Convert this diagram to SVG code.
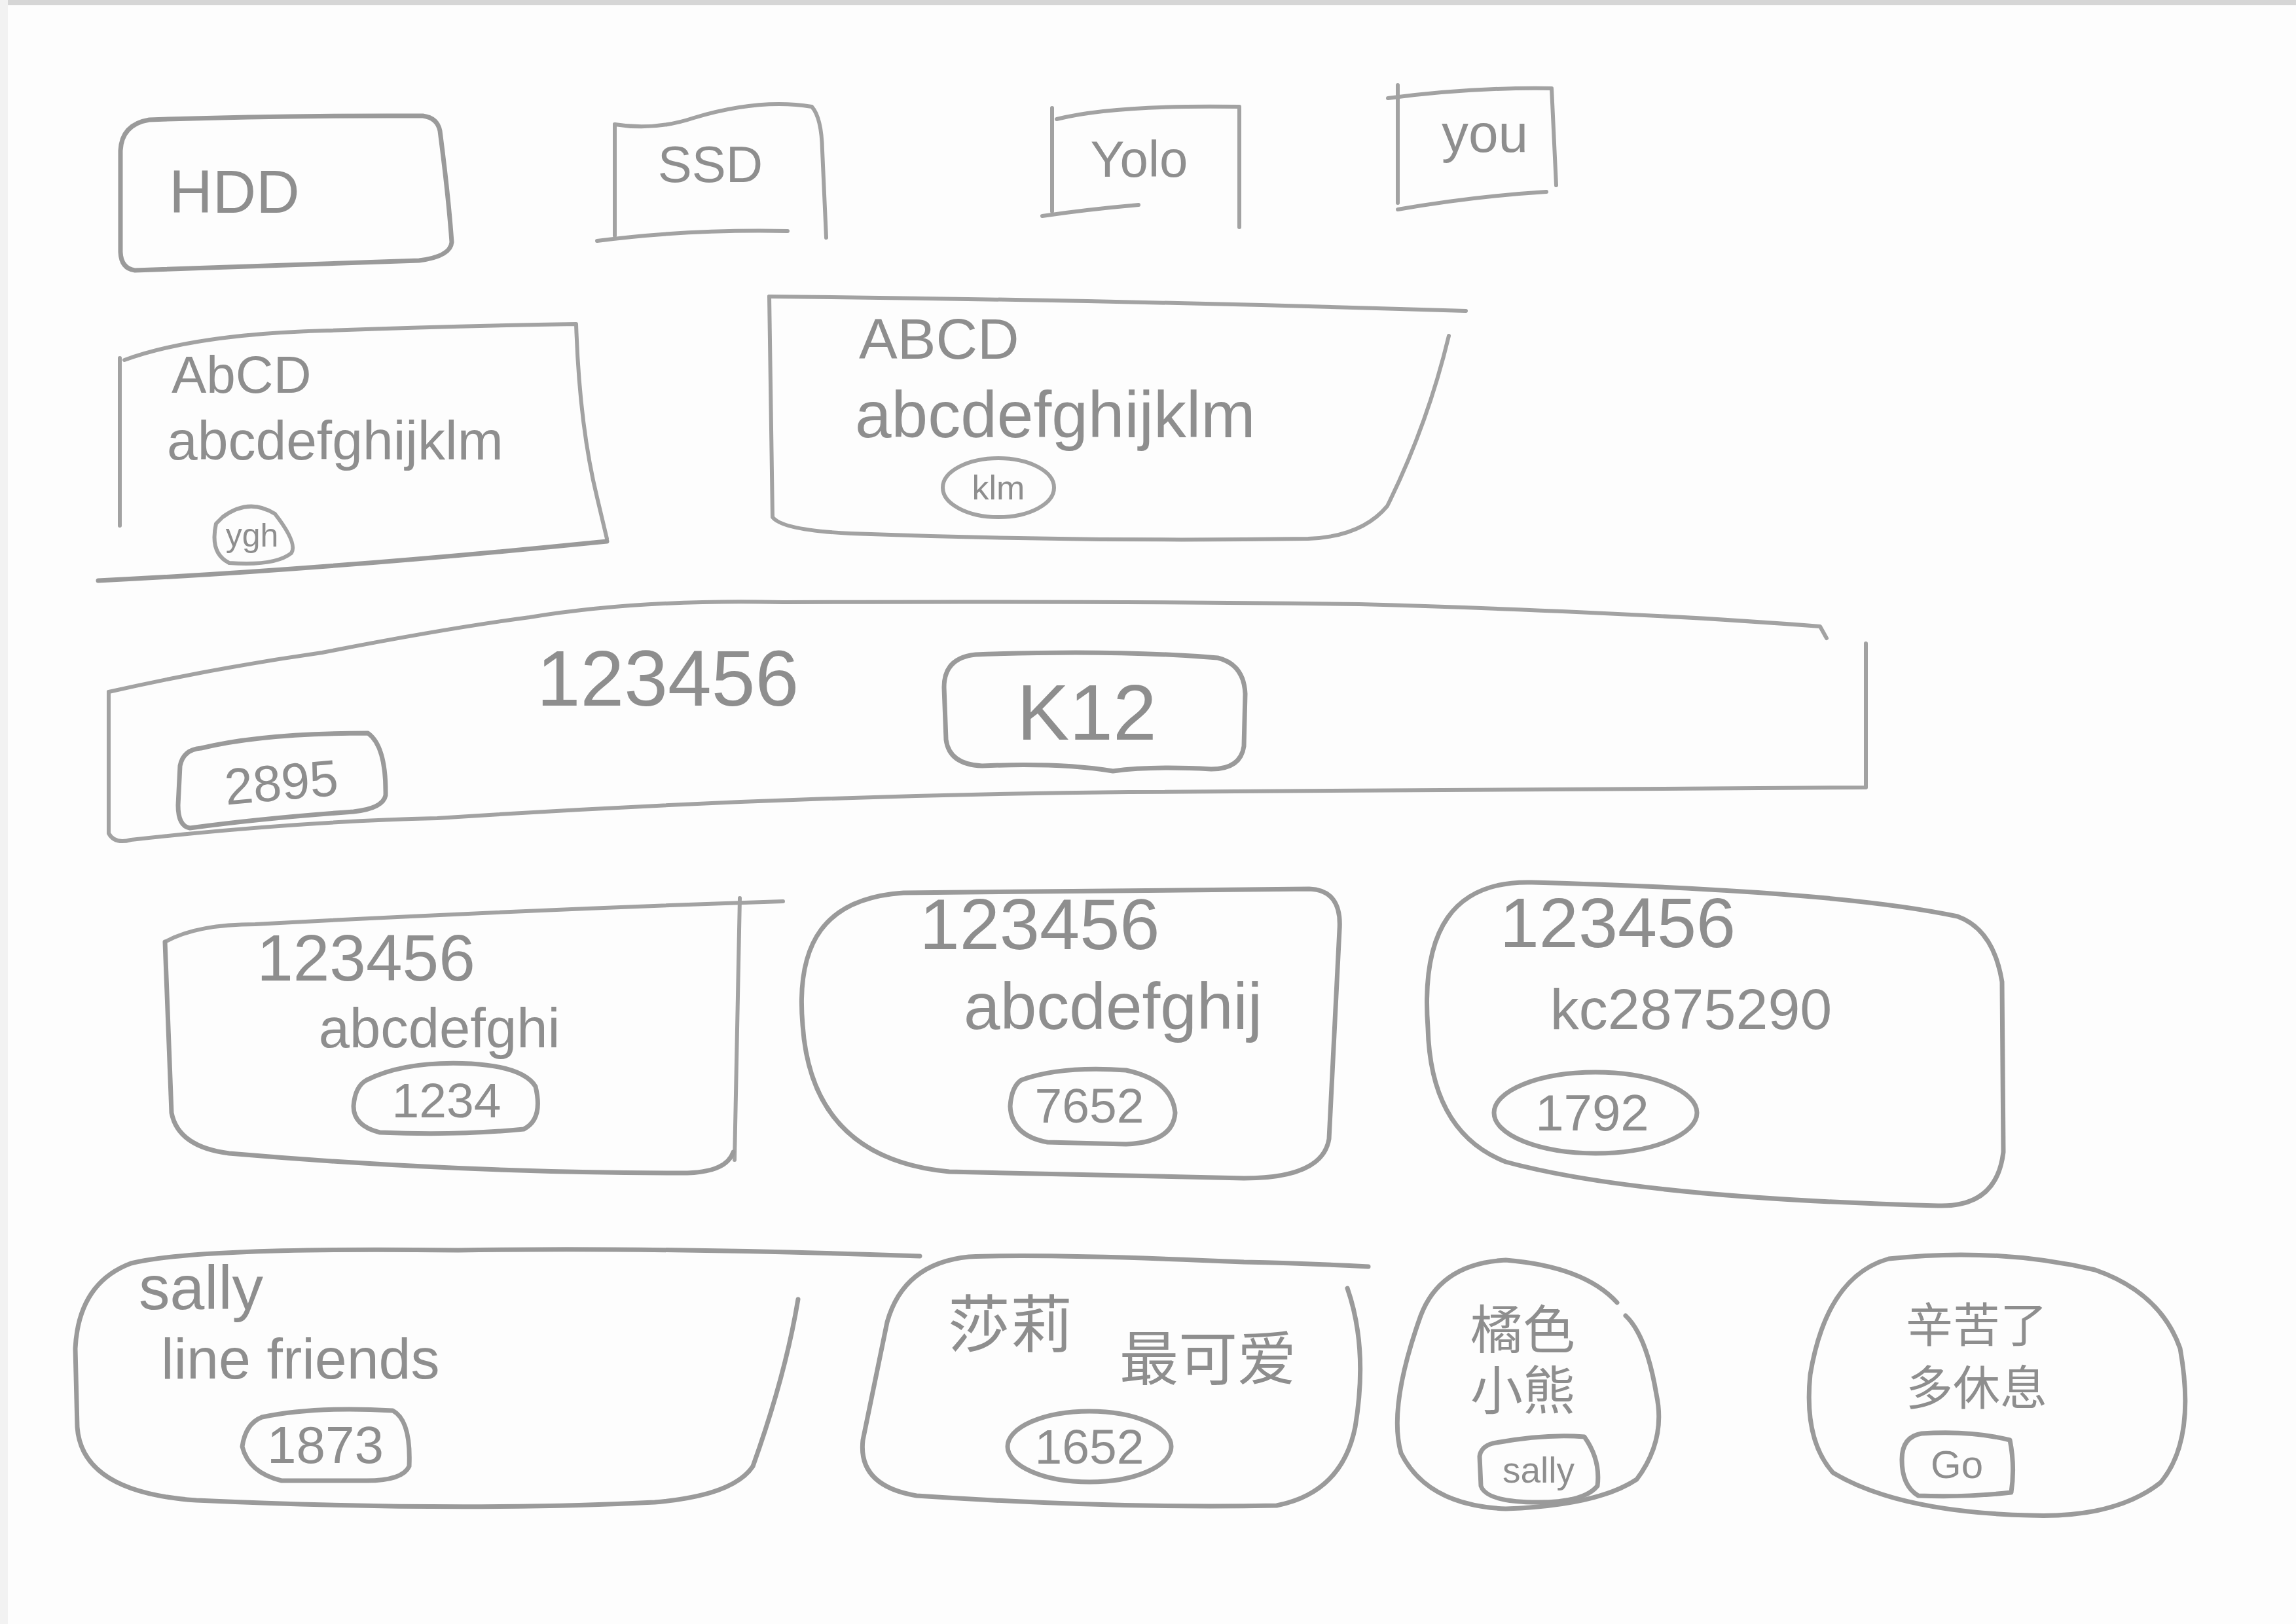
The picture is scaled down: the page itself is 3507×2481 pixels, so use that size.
<svg xmlns="http://www.w3.org/2000/svg" width="3507" height="2481" viewBox="0 0 3507 2481">
<style>
.s{fill:none;stroke:#a2a2a2;stroke-width:6;stroke-linecap:round;stroke-linejoin:round}
.b{stroke-width:7;stroke:#9a9a9a}
.t{fill:#8e8e8e;font-family:"Liberation Sans","Noto Sans CJK SC",sans-serif;text-anchor:middle}
.l{text-anchor:start}
</style>
<rect x="0" y="0" width="3507" height="2481" fill="#fdfdfd"/>
<rect x="0" y="0" width="3507" height="8" fill="#d6d6d6"/>
<rect x="0" y="0" width="12" height="2481" fill="#f2f2f2"/>

<g id="n-hdd">
<path class="s b" d="M228 183 Q420 176 646 177 Q668 180 672 200 Q685 300 690 370 Q688 392 640 398 Q420 405 206 413 Q185 410 184 385 L184 230 Q186 190 228 183 Z"/>
<text class="t" x="358" y="325" font-size="92">HDD</text>
</g>
<g id="n-ssd">
<path class="s" d="M939 190 Q1000 200 1060 180 Q1160 150 1240 163 Q1255 180 1256 230 L1262 363"/>
<path class="s" d="M939 190 L939 360"/>
<path class="s" d="M912 368 Q1050 350 1203 353"/>
<text class="t" x="1085" y="278" font-size="78">SSD</text>
</g>
<g id="n-yolo">
<path class="s" d="M1607 165 L1607 323"/>
<path class="s" d="M1614 182 Q1700 160 1893 163 L1893 347"/>
<path class="s" d="M1592 330 Q1660 320 1739 313"/>
<text class="t" x="1740" y="270" font-size="78">Yolo</text>
</g>
<g id="n-you">
<path class="s" d="M2135 130 L2135 310"/>
<path class="s" d="M2120 150 Q2250 133 2370 135 L2377 283"/>
<path class="s" d="M2135 320 Q2250 300 2362 293"/>
<text class="t" x="2268" y="232" font-size="82">you</text>
</g>

<g id="n-abcd1">
<path class="s" d="M183 547 L183 803"/>
<path class="s" d="M190 550 Q300 510 500 505 Q700 498 880 495 Q885 650 912 760 L927 823"/>
<path class="s b" d="M150 887 Q500 870 927 827"/>
<text class="t l" x="262" y="600" font-size="80">AbCD</text>
<text class="t l" x="255" y="702" font-size="84">abcdefghijklm</text>
<path class="s" d="M340 790 Q380 760 420 785 Q455 830 445 845 Q420 865 350 860 Q320 845 330 800 Z"/>
<text class="t" x="385" y="835" font-size="50">ygh</text>
</g>
<g id="n-abcd2">
<path class="s" d="M1175 453 Q1700 458 2239 475"/>
<path class="s" d="M1175 453 L1180 790 Q1195 810 1300 815 Q1650 828 1998 823 Q2080 820 2119 773 Q2180 650 2213 513"/>
<text class="t l" x="1312" y="548" font-size="88">ABCD</text>
<text class="t l" x="1306" y="668" font-size="100">abcdefghijklm</text>
<ellipse class="s" cx="1525" cy="745" rx="85" ry="45"/>
<text class="t" x="1525" y="763" font-size="52">klm</text>
</g>

<g id="n-123456-wide">
<path class="s" d="M166 1057 Q330 1020 492 997 Q680 960 809 943 Q980 915 1196 920 Q1700 918 2076 923 Q2500 935 2780 957 L2790 975"/>
<path class="s" d="M166 1057 L166 1273 Q175 1290 200 1283 Q450 1255 668 1250 Q1200 1215 1724 1210 Q2300 1205 2850 1203 L2850 983"/>
<text class="t" x="1020" y="1078" font-size="120">123456</text>
<path class="s b" d="M1490 1000 Q1700 992 1860 1005 Q1900 1015 1902 1060 L1900 1140 Q1895 1175 1850 1175 Q1760 1170 1700 1178 Q1620 1165 1500 1170 Q1450 1168 1445 1130 L1442 1050 Q1442 1005 1490 1000 Z"/>
<text class="t" x="1660" y="1130" font-size="120">K12</text>
<path class="s b" d="M307 1143 Q400 1120 562 1120 Q590 1140 589 1215 Q585 1235 540 1240 Q400 1250 290 1265 Q272 1262 272 1230 L275 1170 Q280 1145 307 1143 Z"/>
<text class="t" x="430" y="1222" font-size="78" transform="rotate(-5 430 1200)">2895</text>
</g>

<g id="n-row4-a">
<path class="s" d="M252 1439 Q300 1412 390 1412 Q800 1390 1196 1377"/>
<path class="s" d="M1130 1372 L1122 1772"/>
<path class="s b" d="M252 1439 L262 1700 Q272 1752 350 1762 Q700 1792 1050 1792 Q1110 1790 1120 1760"/>
<text class="t" x="559" y="1498" font-size="100">123456</text>
<text class="t" x="671" y="1600" font-size="85">abcdefghi</text>
<path class="s b" d="M560 1650 Q620 1620 720 1625 Q800 1630 818 1660 Q830 1710 800 1725 Q700 1735 580 1730 Q540 1720 540 1690 Q542 1660 560 1650 Z"/>
<text class="t" x="682" y="1707" font-size="75">1234</text>
</g>
<g id="n-row4-b">
<path class="s b" d="M1226 1566 C1215 1440 1260 1372 1380 1364 L2000 1358 Q2050 1360 2046 1420 L2030 1740 Q2020 1800 1900 1800 L1450 1790 Q1240 1770 1226 1566 Z"/>
<text class="t" x="1588" y="1450" font-size="110">123456</text>
<text class="t" x="1700" y="1572" font-size="100">abcdefghij</text>
<path class="s b" d="M1560 1650 Q1620 1628 1720 1635 Q1790 1650 1795 1700 Q1792 1745 1720 1748 L1600 1745 Q1545 1735 1543 1690 Q1545 1660 1560 1650 Z"/>
<text class="t" x="1664" y="1715" font-size="75">7652</text>
</g>
<g id="n-row4-c">
<path class="s b" d="M2181 1570 C2170 1420 2220 1345 2340 1348 C2600 1355 2850 1370 2990 1400 Q3045 1420 3058 1500 L3060 1760 Q3050 1845 2960 1842 Q2500 1830 2300 1775 Q2185 1730 2181 1570 Z"/>
<text class="t" x="2471" y="1447" font-size="108">123456</text>
<text class="t" x="2583" y="1572" font-size="88">kc2875290</text>
<ellipse class="s b" cx="2437" cy="1700" rx="155" ry="62"/>
<text class="t" x="2432" y="1727" font-size="78">1792</text>
</g>

<g id="n-sally">
<path class="s b" d="M1405 1919 Q1000 1905 700 1910 Q300 1905 200 1930 Q120 1960 115 2060 L118 2180 Q125 2280 300 2292 Q700 2310 1000 2295 Q1120 2285 1150 2240 Q1200 2100 1219 1985"/>
<text class="t l" x="212" y="2000" font-size="95">sally</text>
<text class="t l" x="246" y="2106" font-size="88">line friends</text>
<path class="s b" d="M400 2165 Q480 2148 600 2155 Q628 2170 625 2240 Q615 2262 560 2262 L430 2262 Q380 2250 370 2210 Q375 2175 400 2165 Z"/>
<text class="t" x="497" y="2235" font-size="80">1873</text>
</g>
<g id="n-shali">
<path class="s b" d="M2090 1935 Q2000 1930 1900 1928 Q1600 1915 1480 1920 Q1380 1930 1355 2020 L1318 2200 Q1310 2270 1400 2285 Q1700 2305 1950 2300 Q2050 2280 2070 2180 Q2090 2060 2058 1968"/>
<text class="t" x="1543" y="2058" font-size="95">莎莉</text>
<text class="t" x="1845" y="2108" font-size="90">最可爱</text>
<ellipse class="s b" cx="1664" cy="2210" rx="125" ry="54"/>
<text class="t" x="1664" y="2236" font-size="75">1652</text>
</g>
<g id="n-juse">
<path class="s b" d="M2470 1990 Q2420 1935 2300 1925 Q2200 1930 2170 2010 Q2120 2150 2140 2220 Q2180 2300 2300 2305 Q2440 2300 2500 2260 Q2545 2200 2530 2130 Q2515 2040 2483 2010"/>
<text class="t" x="2326" y="2060" font-size="80">橘色</text>
<text class="t" x="2326" y="2153" font-size="80">小熊</text>
<path class="s b" d="M2280 2205 Q2360 2190 2420 2195 Q2445 2230 2440 2270 Q2420 2295 2350 2295 Q2270 2295 2262 2270 L2260 2225 Q2262 2210 2280 2205 Z"/>
<text class="t" x="2350" y="2265" font-size="55">sally</text>
</g>
<g id="n-xinku">
<path class="s b" d="M2885 1923 Q3050 1905 3200 1940 Q3300 1975 3330 2060 Q3355 2200 3300 2265 Q3230 2320 3100 2315 Q2900 2310 2800 2250 Q2755 2200 2765 2100 Q2790 1950 2885 1923 Z"/>
<text class="t" x="3019" y="2050" font-size="72">辛苦了</text>
<text class="t" x="3019" y="2146" font-size="72">多休息</text>
<path class="s b" d="M2935 2190 Q3010 2185 3070 2200 Q3078 2240 3072 2280 Q3000 2288 2930 2285 Q2905 2270 2905 2230 Q2905 2195 2935 2190 Z"/>
<text class="t" x="2989" y="2258" font-size="60">Go</text>
</g>

<g id="connectors"></g>
</svg>
